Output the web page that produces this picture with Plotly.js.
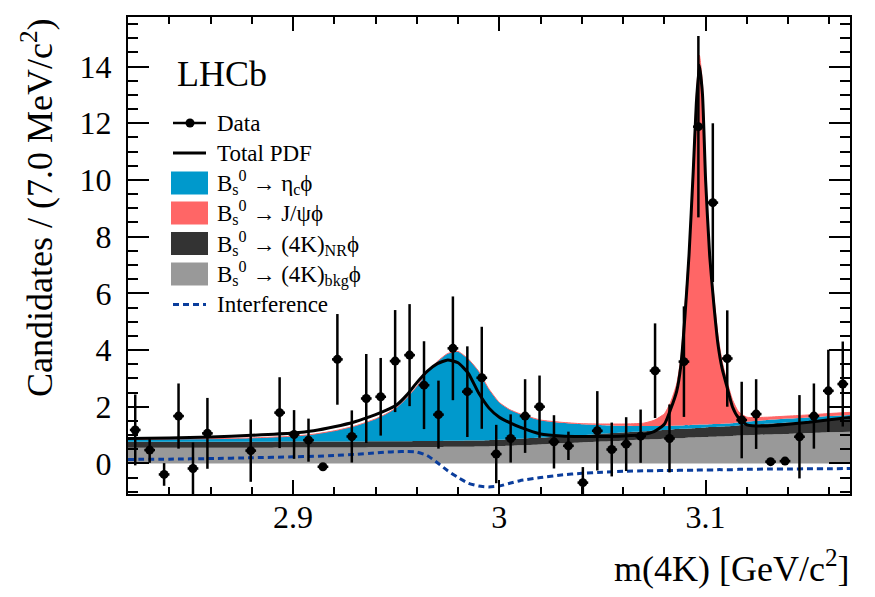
<!DOCTYPE html>
<html><head><meta charset="utf-8">
<script src="https://cdn.plot.ly/plotly-3.0.1.min.js"></script>
<style>html,body{margin:0;padding:0;background:#fff;} #chart{width:875px;height:597px;}</style>
</head><body><div id="chart"></div>
<script>
// ---------- data ----------
const binCenters = [2.8235,2.8305,2.8375,2.8445,2.8515,2.8585,2.8655,2.8725,2.8795,2.8865,
  2.8935,2.9005,2.9075,2.9145,2.9215,2.9285,2.9355,2.9425,2.9495,2.9565,
  2.9635,2.9705,2.9775,2.9845,2.9915,2.9985,3.0055,3.0125,3.0195,3.0265,
  3.0335,3.0405,3.0475,3.0545,3.0615,3.0685,3.0755,3.0825,3.0895,3.0965,
  3.1035,3.1105,3.1175,3.1245,3.1315,3.1385,3.1455,3.1525,3.1595,3.1665];
const dataCounts = [1.18,0.47,-0.39,1.67,-0.18,1.06,null,null,0.45,null,
  1.79,1.02,0.82,-0.12,3.67,0.95,2.29,2.35,3.61,3.82,
  2.76,1.72,4.06,2.53,3.02,0.33,0.88,1.67,2.00,0.76,
  0.62,-0.68,1.15,0.49,0.68,0.96,3.27,0.88,3.59,11.88,
  9.20,3.70,1.53,1.74,0.06,0.08,0.94,1.67,2.56,2.80];
const dataErrors = [1.25,0.45,0.40,1.15,0.92,1.25,null,null,1.10,null,
  1.25,0.86,0.76,0.10,1.60,0.92,1.57,1.37,1.80,1.80,
  1.55,1.20,1.83,1.60,1.80,1.03,0.85,1.30,1.10,0.94,
  0.50,0.55,1.40,0.95,0.95,0.94,1.67,1.20,1.95,3.20,
  2.80,1.70,1.35,1.23,0.10,0.10,1.47,1.15,1.45,1.50];

// curve sampling grid (GeV/c^2)
const curveMass = [2.82,2.84,2.86,2.88,2.90,2.91,2.92,2.93,2.94,2.945,
  2.95,2.955,2.96,2.965,2.97,2.975,2.98,2.985,2.99,2.995,
  3.00,3.005,3.01,3.02,3.03,3.04,3.05,3.06,3.07,3.075,
  3.08,3.083,3.086,3.088,3.09,3.092,3.094,3.0955,3.097,3.0985,
  3.10,3.102,3.104,3.106,3.108,3.11,3.113,3.116,3.12,3.13,
  3.14,3.15,3.16,3.17];
// stacked component tops, as drawn
const bkgTop = [0.55,0.55,0.55,0.55,0.56,0.56,0.56,0.56,0.57,0.57,
  0.57,0.57,0.58,0.58,0.58,0.59,0.59,0.59,0.60,0.60,
  0.61,0.62,0.64,0.67,0.71,0.74,0.77,0.80,0.84,0.85,
  0.87,0.88,0.89,0.89,0.90,0.91,0.91,0.92,0.92,0.93,
  0.93,0.94,0.94,0.95,0.95,0.96,0.97,0.98,0.99,1.02,
  1.04,1.07,1.10,1.12];
const nrTop = [0.76,0.76,0.76,0.76,0.77,0.77,0.77,0.77,0.78,0.78,
  0.78,0.78,0.79,0.79,0.79,0.80,0.80,0.81,0.81,0.82,
  0.83,0.85,0.87,0.91,0.96,1.00,1.05,1.09,1.13,1.16,
  1.18,1.19,1.21,1.22,1.22,1.23,1.24,1.25,1.25,1.26,
  1.27,1.28,1.28,1.29,1.30,1.31,1.32,1.34,1.36,1.40,
  1.44,1.48,1.53,1.57];
const etacTop = [0.85,0.86,0.87,0.90,0.96,1.03,1.15,1.32,1.57,1.74,
  1.96,2.30,2.72,3.20,3.60,3.88,3.95,3.68,3.25,2.62,
  2.15,1.90,1.75,1.52,1.43,1.38,1.35,1.33,1.32,1.32,
  1.33,1.33,1.34,1.34,1.35,1.35,1.36,1.36,1.37,1.37,
  1.37,1.38,1.39,1.39,1.40,1.41,1.42,1.44,1.47,1.53,
  1.58,1.62,1.67,1.71];
const jpsiTop = [0.85,0.86,0.87,0.90,0.96,1.03,1.15,1.32,1.57,1.74,
  1.96,2.30,2.72,3.20,3.60,3.88,3.95,3.68,3.25,2.62,
  2.15,1.90,1.75,1.53,1.45,1.40,1.39,1.39,1.42,1.52,
  1.75,2.15,2.80,3.70,5.60,7.60,10.60,13.00,14.40,13.40,
  10.20,7.40,5.90,4.50,3.60,3.00,2.25,1.82,1.63,1.63,
  1.67,1.71,1.76,1.80];
const interference = [0.14,0.15,0.17,0.20,0.23,0.25,0.28,0.32,0.37,0.40,
  0.41,0.42,0.40,0.28,0.02,-0.26,-0.50,-0.70,-0.80,-0.83,
  -0.80,-0.70,-0.61,-0.50,-0.41,-0.35,-0.31,-0.28,-0.26,-0.26,
  -0.25,-0.25,-0.25,-0.24,-0.24,-0.24,-0.24,-0.24,-0.23,-0.23,
  -0.23,-0.23,-0.23,-0.22,-0.22,-0.22,-0.22,-0.21,-0.21,-0.20,
  -0.20,-0.19,-0.19,-0.18];
const totalPdf = [0.88,0.90,0.93,0.99,1.07,1.15,1.29,1.47,1.72,1.87,
  2.05,2.40,2.85,3.25,3.52,3.65,3.55,3.18,2.48,1.95,
  1.63,1.44,1.28,1.04,0.97,0.95,0.95,0.97,1.02,1.12,
  1.38,1.90,2.55,3.45,5.20,7.40,10.30,12.70,14.05,13.00,
  10.00,7.30,5.60,4.20,3.35,2.80,2.00,1.60,1.36,1.32,
  1.38,1.45,1.54,1.62];

const xTickVals = [2.9, 3.0, 3.1];
const xTickText = ['2.9', '3', '3.1'];
const yTickVals = [0, 2, 4, 6, 8, 10, 12, 14];
const yTickText = ['0', '2', '4', '6', '8', '10', '12', '14'];

const legendLabels = ['Data', 'Total PDF',
  'B<sub>s</sub><sup>0</sup> → η<sub>c</sub>ϕ',
  'B<sub>s</sub><sup>0</sup> → J/ψϕ',
  'B<sub>s</sub><sup>0</sup> → (4K)<sub>NR</sub>ϕ',
  'B<sub>s</sub><sup>0</sup> → (4K)<sub>bkg</sub>ϕ',
  'Interference'];

// ---------- styles ----------
const FONT = 'Liberation Serif, Times New Roman, serif';
const C_BLUE = '#0099CC', C_RED = '#FF6666', C_DARK = '#333333', C_GRAY = '#999999', C_INT = '#0a3d9c';

const fillLine = {width: 0, shape: 'spline', smoothing: 0.5};
const traces = [
  {x: curveMass, y: bkgTop, type: 'scatter', mode: 'lines', fill: 'tozeroy', fillcolor: C_GRAY, line: fillLine, hoverinfo: 'skip', showlegend: false},
  {x: curveMass, y: nrTop, type: 'scatter', mode: 'lines', fill: 'tonexty', fillcolor: C_DARK, line: fillLine, hoverinfo: 'skip', showlegend: false},
  {x: curveMass, y: etacTop, type: 'scatter', mode: 'lines', fill: 'tonexty', fillcolor: C_BLUE, line: fillLine, hoverinfo: 'skip', showlegend: false},
  {x: curveMass, y: jpsiTop, type: 'scatter', mode: 'lines', fill: 'tonexty', fillcolor: C_RED, line: {width: 1, color: C_RED, shape: 'spline', smoothing: 0.5}, hoverinfo: 'skip', showlegend: false},
  {x: curveMass, y: interference, type: 'scatter', mode: 'lines', line: {width: 3, color: C_INT, dash: '6px,4px', shape: 'spline', smoothing: 0.5}, showlegend: false},
  {x: curveMass, y: totalPdf, type: 'scatter', mode: 'lines', line: {width: 3, color: '#000', shape: 'spline', smoothing: 0.5}, showlegend: false},
  {x: binCenters, y: dataCounts, type: 'scatter', mode: 'markers',
   marker: {symbol: 'circle', size: 9, color: '#000'},
   error_y: {type: 'data', array: dataErrors, visible: true, color: '#000', thickness: 2.5, width: 0},
   error_x: {type: 'constant', value: 0.0026, visible: true, color: '#000', thickness: 2.5, width: 0},
   showlegend: false}
];

// plot frame in pixels
const PL = 128, PR = 850, PT = 17, PB = 494;
const px = X => (X - PL) / (PR - PL);
const py = Y => (PB - Y) / (PB - PT);

const shapes = [];
const annotations = [];
const rowY = [123, 153, 183, 213, 243.5, 274, 304.5];
const symX0 = 171, symX1 = 208, txtX = 215;

// Data symbol
shapes.push({type: 'line', xref: 'paper', yref: 'paper', x0: px(173), x1: px(206), y0: py(rowY[0]), y1: py(rowY[0]), line: {color: '#000', width: 2.5}});
shapes.push({type: 'circle', xref: 'paper', yref: 'paper', x0: px(185.5), x1: px(194.5), y0: py(rowY[0] + 4.5), y1: py(rowY[0] - 4.5), fillcolor: '#000', line: {width: 0}});
// Total PDF
shapes.push({type: 'line', xref: 'paper', yref: 'paper', x0: px(173), x1: px(206), y0: py(rowY[1]), y1: py(rowY[1]), line: {color: '#000', width: 3}});
// boxes
[C_BLUE, C_RED, C_DARK, C_GRAY].forEach((c, k) => {
  const yc = rowY[2 + k];
  shapes.push({type: 'rect', xref: 'paper', yref: 'paper', x0: px(symX0), x1: px(symX1), y0: py(yc + 11.5), y1: py(yc - 11.5), fillcolor: c, line: {width: 0}});
});
// interference
shapes.push({type: 'line', xref: 'paper', yref: 'paper', x0: px(173), x1: px(206), y0: py(rowY[6]), y1: py(rowY[6]), line: {color: C_INT, width: 3, dash: '6px,4px'}});

legendLabels.forEach((t, k) => {
  annotations.push({text: t, xref: 'paper', yref: 'paper', x: px(txtX), y: py(rowY[k]), xanchor: 'left', yanchor: 'middle', showarrow: false, font: {family: FONT, size: 23, color: '#000'}});
});
annotations.push({text: 'LHCb', xref: 'paper', yref: 'paper', x: px(175), y: py(74), xanchor: 'left', yanchor: 'middle', showarrow: false, font: {family: FONT, size: 36, color: '#000'}});
annotations.push({text: 'Candidates / (7.0 MeV/c<sup>2</sup>)', xref: 'paper', yref: 'paper', x: px(37), y: py(208), xanchor: 'center', yanchor: 'middle', textangle: -90, showarrow: false, font: {family: FONT, size: 36, color: '#000'}});
annotations.push({text: 'm(4K) [GeV/c<sup>2</sup>]', xref: 'paper', yref: 'paper', x: px(852), y: py(566), xanchor: 'right', yanchor: 'middle', showarrow: false, font: {family: FONT, size: 36, color: '#000'}});

const axisCommon = {
  showline: true, linewidth: 2, linecolor: '#000', mirror: 'ticks',
  ticks: 'inside', tickwidth: 2, tickcolor: '#000',
  showgrid: false, zeroline: false,
  tickfont: {family: FONT, size: 32, color: '#000'}
};

const layout = {
  width: 875, height: 597,
  margin: {l: PL, r: 875 - PR, t: PT, b: 597 - PB},
  paper_bgcolor: '#fff', plot_bgcolor: '#fff',
  showlegend: false,
  xaxis: Object.assign({}, axisCommon, {
    range: [2.82, 3.17], tickmode: 'array', tickvals: xTickVals, ticktext: xTickText,
    ticklen: 14, ticklabelstandoff: -6,
    minor: {dtick: 0.02, tick0: 2.9, ticks: 'inside', ticklen: 7, tickwidth: 2, tickcolor: '#000', showgrid: false}
  }),
  yaxis: Object.assign({}, axisCommon, {
    range: [-1.08, 15.75], tickmode: 'array', tickvals: yTickVals, ticktext: yTickText,
    ticklen: 21, ticklabelstandoff: 8,
    minor: {dtick: 0.5, tick0: 0, ticks: 'inside', ticklen: 10, tickwidth: 2, tickcolor: '#000', showgrid: false}
  }),
  shapes: shapes,
  annotations: annotations,
  font: {family: FONT, color: '#000'}
};

Plotly.newPlot('chart', traces, layout, {displayModeBar: false, staticPlot: true});
</script>
</body></html>
